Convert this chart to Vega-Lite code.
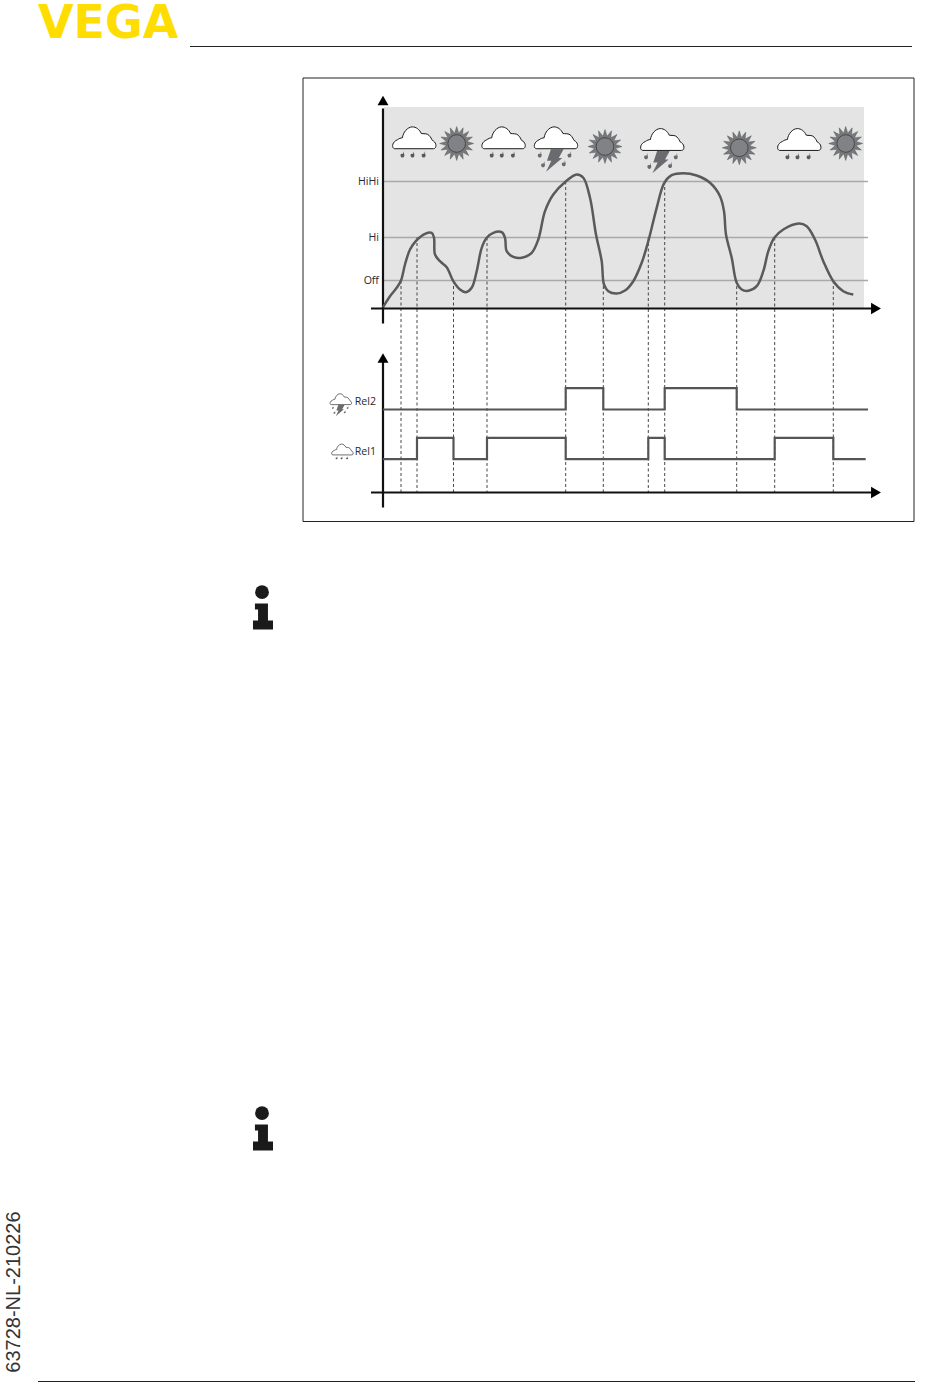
{
"$schema":"https://vega.github.io/schema/vega-lite/v6.json",
"autosize":{"type":"fit","contains":"padding"},"width":950,"height":1392,"padding":0,"background":"white",
"config":{"view":{"stroke":null}},
"datasets":{
"curve":[{"t":0,"level":1.3},{"t":7,"level":12.3},{"t":13.7,"level":20.7},{"t":18,"level":28},{"t":22,"level":44},{"t":27,"level":59},{"t":33.7,"level":68.3},{"t":42,"level":74.7},{"t":48.7,"level":75.7},{"t":51,"level":70.7},{"t":52,"level":54},{"t":57,"level":47.3},{"t":63.7,"level":41.3},{"t":70.3,"level":27.3},{"t":77,"level":19},{"t":82.7,"level":16.3},{"t":88.7,"level":20.7},{"t":93.7,"level":37.3},{"t":98.7,"level":60.7},{"t":103.7,"level":70.7},{"t":110.3,"level":75.7},{"t":118.7,"level":76.3},{"t":122,"level":70.7},{"t":123.7,"level":57.3},{"t":130.3,"level":51.7},{"t":138.7,"level":50.7},{"t":148.7,"level":55.7},{"t":155.3,"level":69},{"t":162,"level":97.3},{"t":170.3,"level":114},{"t":182.7,"level":127},{"t":193.7,"level":134},{"t":200.3,"level":130.7},{"t":207,"level":110.7},{"t":213,"level":74},{"t":218.7,"level":47.3},{"t":221,"level":24},{"t":225.3,"level":17.3},{"t":233.7,"level":15},{"t":242,"level":18},{"t":250.3,"level":27.3},{"t":258.7,"level":45.7},{"t":265.3,"level":67.3},{"t":273.7,"level":100.7},{"t":281.3,"level":125.7},{"t":288.7,"level":133.3},{"t":300.3,"level":135.3},{"t":313.7,"level":133},{"t":327,"level":125.7},{"t":337,"level":112.3},{"t":341,"level":97.3},{"t":343,"level":74},{"t":348.7,"level":50.7},{"t":353.7,"level":25.7},{"t":358.7,"level":19},{"t":365.3,"level":17.7},{"t":373.7,"level":22.3},{"t":380.3,"level":37.3},{"t":385.3,"level":57.3},{"t":391.3,"level":70.7},{"t":400.3,"level":79},{"t":416,"level":85},{"t":423.7,"level":82.3},{"t":432,"level":69},{"t":440.3,"level":47.3},{"t":450.3,"level":27.3},{"t":460.3,"level":17.3},{"t":470.3,"level":14}],
"thresholds":[{"name":"HiHi","level":127,"t":0,"t2":485,"lt":-4},{"name":"Hi","level":71,"t":0,"t2":485,"lt":-4},{"name":"Off","level":28,"t":0,"t2":485,"lt":-4}],
"switches":[{"t":18,"level":28},{"t":34,"level":71},{"t":70.5,"level":28},{"t":104,"level":71},{"t":182.7,"level":127},{"t":220.3,"level":28},{"t":265.3,"level":71},{"t":281.7,"level":127},{"t":353.7,"level":28},{"t":391.7,"level":71},{"t":450.3,"level":28}],
"rainBig":[{"t":31,"level":170.7},{"t":120.3,"level":170.7},{"t":416,"level":169}],
"stormBig":[{"t":172.7,"level":170.7},{"t":279,"level":169}],
"suns":[{"t":73.7,"level":165},{"t":222,"level":162},{"t":356.3,"level":160.7},{"t":462.7,"level":165}],
"rel1":[{"t":0,"state":0},{"t":34,"state":1},{"t":70.5,"state":0},{"t":104,"state":1},{"t":182.7,"state":0},{"t":265.3,"state":1},{"t":281.7,"state":0},{"t":391.7,"state":1},{"t":450.3,"state":0},{"t":482.7,"state":0}],
"rel2":[{"t":0,"state":0},{"t":182.7,"state":1},{"t":220.3,"state":0},{"t":281.7,"state":1},{"t":353.7,"state":0},{"t":485,"state":0}]
},
"layer":[
{"data":{"values":[{"px":303,"px2":914,"py":78.5,"py2":522}]},
 "mark":{"type":"rect","fill":null,"stroke":"#222222","strokeWidth":1},
 "encoding":{"x":{"field":"px","type":"quantitative","scale":{"domain":[0,950],"range":[0,950],"nice":false,"zero":false},"axis":null},"x2":{"field":"px2"},"y":{"field":"py","type":"quantitative","scale":{"domain":[0,1392],"range":[-0.5,1391.5],"nice":false,"zero":false},"axis":null},"y2":{"field":"py2"}}},
{"encoding":{"x":{"field":"t","type":"quantitative","scale":{"domain":[0,498],"range":[383,881],"nice":false,"zero":false},"axis":null},"y":{"field":"level","type":"quantitative","scale":{"domain":[0,202],"range":[308.5,106.5],"nice":false,"zero":false},"axis":null}},
 "layer":[
 {"data":{"values":[{"t":1,"t2":481,"level":0,"level2":201.5}]},"mark":{"type":"rect","fill":"#e4e4e4"},"encoding":{"x2":{"field":"t2"},"y2":{"field":"level2"}}},
 {"data":{"name":"thresholds"},"mark":{"type":"rule","stroke":"#a9a9a9","strokeWidth":1.6},"encoding":{"x2":{"field":"t2"}}},
 {"data":{"name":"thresholds"},"mark":{"type":"text","align":"right","baseline":"middle","font":"Open Sans","fontSize":10.6,"fill":"#2a2a2a"},"encoding":{"x":{"field":"lt","type":"quantitative"},"text":{"field":"name"}}},
 {"data":{"name":"switches"},"mark":{"type":"rule","stroke":"#333333","strokeWidth":0.9,"strokeDash":[3,2.5]},"encoding":{"y2":{"datum":-184}}},
 {"data":{"values":[{"t":-12,"t2":490,"level":0},{"t":-12,"t2":490,"level":-184}]},"mark":{"type":"rule","stroke":"#111111","strokeWidth":2.2},"encoding":{"x2":{"field":"t2"}}},
 {"data":{"values":[{"t":0,"level":-15,"level2":200},{"t":0,"level":-199,"level2":-50}]},"mark":{"type":"rule","stroke":"#111111","strokeWidth":2.2},"encoding":{"y2":{"field":"level2"}}},
 {"data":{"values":[{"t":0,"level":208},{"t":0,"level":-49.5}]},"mark":{"type":"point","shape":"triangle-up","filled":true,"fill":"#000000","opacity":1,"size":120}},
 {"data":{"values":[{"t":493,"level":0},{"t":493,"level":-184}]},"mark":{"type":"point","shape":"triangle-right","filled":true,"fill":"#000000","opacity":1,"size":130}},
 {"data":{"name":"curve"},"mark":{"type":"line","interpolate":"catmull-rom","stroke":"#5a5a5a","strokeWidth":2.5}},
 {"data":{"name":"suns"},"mark":{"type":"point","filled":true,"fill":"#77797c","stroke":"#4a4a4a","strokeWidth":0.4,"opacity":1,"size":1156,"shape":"M1 0L.608 .121L.924 .383L.515 .345L.707 .707L.345 .515L.383 .924L.121 .608L0 1L-.121 .608L-.383 .924L-.345 .515L-.707 .707L-.515 .345L-.924 .383L-.608 .121L-1 0L-.608 -.121L-.924 -.383L-.515 -.345L-.707 -.707L-.345 -.515L-.383 -.924L-.121 -.608L0 -1L.121 -.608L.383 -.924L.345 -.515L.707 -.707L.515 -.345L.924 -.383L.608 -.121Z"}},
 {"data":{"name":"suns"},"mark":{"type":"point","shape":"circle","filled":true,"fill":"#808285","stroke":"#3a3a3a","strokeWidth":0.8,"opacity":1,"size":310}},
 {"data":{"name":"rainBig"},"mark":{"type":"point","filled":true,"fill":"#58595b","opacity":1,"size":1910,"shape":"M-.48 .62L-.44 .8C-.44 .94 -.62 .94 -.62 .8C-.62 .74 -.54 .72 -.5 .74ZM-.02 .62L.02 .8C.02 .94 -.16 .94 -.16 .8C-.16 .74 -.08 .72 -.04 .74ZM.49 .62L.53 .8C.53 .94 .35 .94 .35 .8C.35 .74 .43 .72 .47 .74Z"}},
 {"data":{"name":"stormBig"},"mark":{"type":"point","filled":true,"fill":"#6a6b6e","opacity":1,"size":1910,"shape":"M-.22 .52L.36 .52L.14 .92L.3 .92L-.44 1.55L-.2 1.05L-.4 1.05ZM-.68 .62L-.64 .8C-.64 .94 -.82 .94 -.82 .8C-.82 .74 -.74 .72 -.7 .74ZM-.53 1.06L-.49 1.24C-.49 1.38 -.67 1.38 -.67 1.24C-.67 1.18 -.59 1.16 -.55 1.18ZM.42 1.02L.46 1.2C.46 1.34 .28 1.34 .28 1.2C.28 1.14 .36 1.12 .4 1.14ZM.68 .62L.72 .8C.72 .94 .54 .94 .54 .8C.54 .74 .62 .72 .66 .74Z"}},
 {"data":{"name":"rainBig"},"mark":{"type":"point","filled":true,"fill":"#ffffff","stroke":"#1a1a1a","strokeWidth":1,"opacity":1,"size":1910,"shape":"M-.87 .5C-1.03 .5 -1.03 .2 -.76 .09C-.69 .04 -.6 0 -.53 0C-.5 -.25 -.3 -.49 -.08 -.5C.1 -.5 .25 -.38 .33 -.2C.42 -.17 .6 -.22 .69 -.11C.77 -.03 .8 .05 .84 .12C1.05 .2 1.05 .5 .89 .5Z"}},
 {"data":{"name":"stormBig"},"mark":{"type":"point","filled":true,"fill":"#ffffff","stroke":"#1a1a1a","strokeWidth":1,"opacity":1,"size":1910,"shape":"M-.87 .5C-1.03 .5 -1.03 .2 -.76 .09C-.69 .04 -.6 0 -.53 0C-.5 -.25 -.3 -.49 -.08 -.5C.1 -.5 .25 -.38 .33 -.2C.42 -.17 .6 -.22 .69 -.11C.77 -.03 .8 .05 .84 .12C1.05 .2 1.05 .5 .89 .5Z"}},
 {"data":{"values":[{"t":-42.3,"level":-90.7},{"t":-40.7,"level":-141}]},"mark":{"type":"point","filled":true,"fill":"#ffffff","stroke":"#333333","strokeWidth":0.7,"opacity":1,"size":470,"shape":"M-.87 .5C-1.03 .5 -1.03 .2 -.76 .09C-.69 .04 -.6 0 -.53 0C-.5 -.25 -.3 -.49 -.08 -.5C.1 -.5 .25 -.38 .33 -.2C.42 -.17 .6 -.22 .69 -.11C.77 -.03 .8 .05 .84 .12C1.05 .2 1.05 .5 .89 .5Z"}},
 {"data":{"values":[{"t":-40.7,"level":-141}]},"mark":{"type":"point","filled":true,"fill":"#58595b","opacity":1,"size":470,"shape":"M-.48 .62L-.44 .8C-.44 .94 -.62 .94 -.62 .8C-.62 .74 -.54 .72 -.5 .74ZM-.02 .62L.02 .8C.02 .94 -.16 .94 -.16 .8C-.16 .74 -.08 .72 -.04 .74ZM.49 .62L.53 .8C.53 .94 .35 .94 .35 .8C.35 .74 .43 .72 .47 .74Z"}},
 {"data":{"values":[{"t":-42.3,"level":-90.7}]},"mark":{"type":"point","filled":true,"fill":"#6a6b6e","opacity":1,"size":470,"shape":"M-.22 .52L.36 .52L.14 .92L.3 .92L-.44 1.55L-.2 1.05L-.4 1.05ZM-.68 .62L-.64 .8C-.64 .94 -.82 .94 -.82 .8C-.82 .74 -.74 .72 -.7 .74ZM-.53 1.06L-.49 1.24C-.49 1.38 -.67 1.38 -.67 1.24C-.67 1.18 -.59 1.16 -.55 1.18ZM.42 1.02L.46 1.2C.46 1.34 .28 1.34 .28 1.2C.28 1.14 .36 1.12 .4 1.14ZM.68 .62L.72 .8C.72 .94 .54 .94 .54 .8C.54 .74 .62 .72 .66 .74Z"}},
 {"data":{"values":[{"t":-7,"level":-93.7,"name":"Rel2"},{"t":-7,"level":-143.3,"name":"Rel1"}]},"mark":{"type":"text","align":"right","baseline":"middle","font":"Open Sans","fontSize":10.6,"fill":"#2a2a2a"},"encoding":{"text":{"field":"name"}}}
 ]},
{"data":{"name":"rel1"},"mark":{"type":"line","interpolate":"step-after","stroke":"#555555","strokeWidth":2.2},
 "encoding":{"x":{"field":"t","type":"quantitative","scale":{"domain":[0,498],"range":[383,881],"nice":false,"zero":false},"axis":null},"y":{"field":"state","type":"quantitative","scale":{"domain":[0,1],"range":[459.2,437.8],"nice":false,"zero":false},"axis":null}}},
{"data":{"name":"rel2"},"mark":{"type":"line","interpolate":"step-after","stroke":"#555555","strokeWidth":2.2},
 "encoding":{"x":{"field":"t","type":"quantitative","scale":{"domain":[0,498],"range":[383,881],"nice":false,"zero":false},"axis":null},"y":{"field":"state","type":"quantitative","scale":{"domain":[0,1],"range":[409.5,388.2],"nice":false,"zero":false},"axis":null}}},
{"encoding":{"x":{"field":"px","type":"quantitative","scale":{"domain":[0,950],"range":[0,950],"nice":false,"zero":false},"axis":null},"y":{"field":"py","type":"quantitative","scale":{"domain":[0,1392],"range":[-0.5,1391.5],"nice":false,"zero":false},"axis":null}},
 "layer":[
 {"data":{"values":[{"px":190,"px2":912,"py":47},{"px":38,"px2":915,"py":1382}]},"mark":{"type":"rule","stroke":"#222222","strokeWidth":1},"encoding":{"x2":{"field":"px2"}}},
 {"data":{"values":[{"px":38,"py":38.5,"label":"VEGA"}]},"mark":{"type":"text","align":"left","baseline":"alphabetic","font":"DejaVu Sans","fontWeight":"bold","fontSize":46,"fill":"#ffdd00"},"encoding":{"text":{"field":"label"}}},
 {"data":{"values":[{"px":20,"py":1373.2,"label":"63728-NL-210226"}]},"mark":{"type":"text","align":"left","baseline":"alphabetic","angle":270,"font":"Liberation Sans","fontSize":20,"fill":"#333333"},"encoding":{"text":{"field":"label"}}},
 {"data":{"values":[{"px":262,"py":592.7},{"px":262,"py":1113.7}]},"mark":{"type":"point","shape":"circle","filled":true,"fill":"#1a1a1a","opacity":1,"size":190}},
 {"data":{"values":[{"px":263,"py":617},{"px":263,"py":1138}]},"mark":{"type":"point","filled":true,"fill":"#1a1a1a","opacity":1,"size":676,"shape":"M-.62 -1L.38 -1L.38 .31L.77 .31L.77 1L-.77 1L-.77 .31L-.38 .31L-.38 -.54L-.62 -.54Z"}}
 ]}
],
"resolve":{"scale":{"x":"independent","y":"independent"}}
}
